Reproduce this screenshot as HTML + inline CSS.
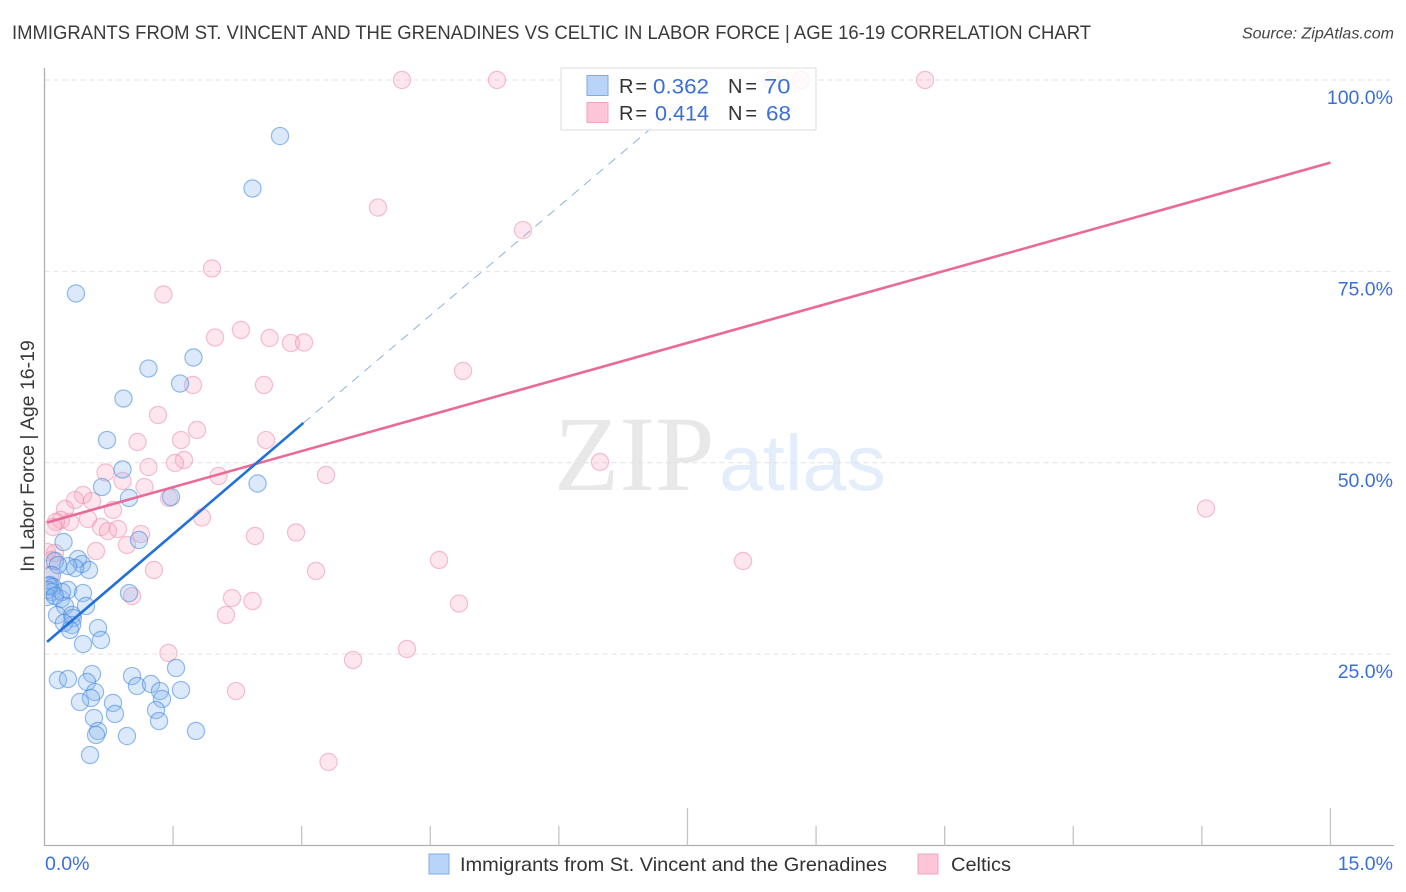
<!DOCTYPE html>
<html lang="en">
<head>
<meta charset="utf-8">
<title>Immigrants from St. Vincent and the Grenadines vs Celtic Correlation Chart</title>
<style>
html,body{margin:0;padding:0;background:#fff;}
body{width:1406px;height:892px;overflow:hidden;font-family:"Liberation Sans",sans-serif;}
svg{display:block;}
text{font-family:"Liberation Sans",sans-serif;}
</style>
</head>
<body>
<svg id="chart" width="1406" height="892" viewBox="0 0 1406 892" xmlns="http://www.w3.org/2000/svg">
  <defs>
    <clipPath id="plot-clip"><rect x="45.5" y="60" width="1350" height="786"/></clipPath>
  </defs>
  <text x="12" y="39" font-size="19.5" fill="#3a3a3a" textLength="1079" lengthAdjust="spacingAndGlyphs">IMMIGRANTS FROM ST. VINCENT AND THE GRENADINES VS CELTIC IN LABOR FORCE | AGE 16-19 CORRELATION CHART</text>
  <text x="1394" y="38.5" font-size="16" font-style="italic" fill="#444" text-anchor="end">Source: ZipAtlas.com</text>
  <g>
    <text x="554" y="490" font-size="107" fill="#e8e8e8" style="font-family:'Liberation Serif',serif">ZIP</text>
    <text x="719" y="490" font-size="79" fill="#e4edfa">atlas</text>
  </g>
  <g id="grid"></g>
  <g id="axes"></g>
  <g id="points" clip-path="url(#plot-clip)"></g>
  <g id="trends"></g>
  <g id="ylabels"></g>
  <g id="xlabels"></g>
  <text transform="translate(34,456) rotate(-90)" font-size="19.5" fill="#3a3a3a" text-anchor="middle">In Labor Force | Age 16-19</text>

  <g>
    <rect x="561" y="68" width="255" height="62" fill="#fff" fill-opacity="0.82" stroke="#dcdcdc" stroke-width="1"/>
    <rect x="587" y="75.5" width="21" height="20" fill="#b8d4f8" stroke="#7fade6" stroke-width="1"/>
    <rect x="587" y="102.5" width="21" height="20" fill="#fcc6d8" stroke="#f2a5be" stroke-width="1"/>
    <text x="619" y="93" font-size="20" fill="#333" textLength="28" lengthAdjust="spacing">R =</text>
    <text x="653" y="93.5" font-size="21.5" fill="#3a6fd8" textLength="56" lengthAdjust="spacingAndGlyphs">0.362</text>
    <text x="728" y="93" font-size="20" fill="#333" textLength="29" lengthAdjust="spacing">N =</text>
    <text x="764" y="93.5" font-size="21.5" fill="#3a6fd8" textLength="26.5" lengthAdjust="spacingAndGlyphs">70</text>
    <text x="619" y="120" font-size="20" fill="#333" textLength="28" lengthAdjust="spacing">R =</text>
    <text x="655" y="120.5" font-size="21.5" fill="#3a6fd8" textLength="54" lengthAdjust="spacingAndGlyphs">0.414</text>
    <text x="728" y="120" font-size="20" fill="#333" textLength="29" lengthAdjust="spacing">N =</text>
    <text x="766" y="120.5" font-size="21.5" fill="#3a6fd8" textLength="25" lengthAdjust="spacingAndGlyphs">68</text>
  </g>

  <g>
    <rect x="429" y="854" width="20" height="20" fill="#b8d4f8" stroke="#7fade6" stroke-width="1"/>
    <text x="460" y="871" font-size="19.5" fill="#333" textLength="427" lengthAdjust="spacingAndGlyphs">Immigrants from St. Vincent and the Grenadines</text>
    <rect x="918" y="854" width="20" height="20" fill="#fcc6d8" stroke="#f2a5be" stroke-width="1"/>
    <text x="951" y="871" font-size="19.5" fill="#333" textLength="60" lengthAdjust="spacingAndGlyphs">Celtics</text>
  </g>
</svg>
<script>
const xTicks = [0, 1.5, 3, 4.5, 6, 7.5, 9, 10.5, 12, 13.5, 15];
const majorXTicks = [0, 7.5, 15];
const xTickLabels = ["0.0%", "15.0%"];
const yGridValues = [25, 50, 75, 100];
const yTickLabels = ["25.0%", "50.0%", "75.0%", "100.0%"];

const blueX = [2.747,2.426,0.367,1.213,1.738,1.581,0.921,0.729,0.910,0.671,0.986,1.476,2.485,1.102,0.222,0.391,0.437,0.519,0.356,0.274,0.122,0.157,0.087,0.064,0.099,0.041,0.087,0.029,0.192,0.274,0.204,0.986,0.449,0.484,0.239,0.146,0.321,0.332,0.321,0.227,0.297,0.624,0.659,0.449,1.534,0.157,0.274,0.554,0.496,0.589,0.542,0.414,1.021,1.079,1.242,1.347,1.592,1.371,0.799,0.822,1.301,1.336,0.577,0.624,0.601,0.962,1.767,0.531,0.05,0.12];
const blueY = [92.68,85.83,72.11,62.31,63.75,60.35,58.39,52.97,49.12,46.83,45.40,45.53,47.29,39.91,39.65,37.43,36.77,35.99,36.25,36.51,37.17,36.64,35.34,34.03,33.77,33.38,33.12,32.46,32.20,33.38,33.12,32.98,32.98,31.29,31.29,30.11,30.11,29.72,28.80,29.07,28.15,28.41,26.85,26.32,23.19,21.62,21.75,22.40,21.36,20.05,19.27,18.75,22.14,20.84,21.10,20.18,20.31,19.14,18.62,17.18,17.70,16.26,16.66,14.96,14.44,14.30,14.96,11.82,33.9,32.6];

const pinkX = [4.170,5.278,8.474,8.824,10.271,3.890,5.581,1.954,1.388,2.292,1.989,2.625,2.875,3.027,4.882,2.560,1.732,1.324,1.779,1.592,2.584,1.085,1.627,1.522,1.213,0.712,3.284,6.480,2.030,0.910,1.166,1.452,0.449,0.356,0.554,0.239,0.799,1.837,0.507,0.297,0.192,0.134,0.099,0.659,0.741,0.857,1.126,0.962,2.455,2.934,13.548,0.601,4.602,8.148,0.122,0.029,0.087,0.064,1.277,3.167,1.021,2.187,2.426,4.835,2.117,4.228,1.446,3.599,2.234,3.313];
const pinkY = [100,100,100,100,100,83.34,80.40,75.38,71.98,67.34,66.36,66.30,65.64,65.71,61.99,60.16,60.16,56.24,54.28,52.97,52.97,52.71,50.36,49.97,49.44,48.73,48.40,50.10,48.27,47.62,46.83,45.40,45.79,45.13,45.00,43.96,43.83,42.85,42.65,42.26,42.52,42.26,41.61,41.61,41.08,41.35,40.69,39.26,40.43,40.89,44.02,38.47,37.30,37.17,38.21,38.34,37.30,35.34,35.99,35.86,32.59,32.33,31.94,31.61,30.11,25.67,25.15,24.23,20.18,10.91];

const blueTrendX = [0.03, 3.02];
const blueTrendY = [26.6, 55.2];
const blueDashX = [3.02, 7.74];
const blueDashY = [55.2, 100];
const pinkTrendX = [0.03, 15];
const pinkTrendY = [42.2, 89.2];

function xScale(v) { return 44.5 + v * 85.73; }
function yScale(v) { return 845.5 - v * 7.655; }

const NS = "http://www.w3.org/2000/svg";
function mk(tag, parent, attrs) {
  const el = document.createElementNS(NS, tag);
  Object.keys(attrs).forEach(function (k) { el.setAttribute(k, attrs[k]); });
  parent.appendChild(el);
  return el;
}

const grid = document.getElementById("grid");
yGridValues.forEach(function (v) {
  const ln = mk("line", grid, { x1: 44.5, x2: 1394, y1: yScale(v), y2: yScale(v), stroke: "#e2e2e2", "stroke-width": 1, "stroke-dasharray": "5 4" });
  
  
});

const axes = document.getElementById("axes");
const yAxis = mk("line", axes, { x1: 44.5, x2: 44.5, y1: 68, y2: 846, stroke: "#b0b0b0", "stroke-width": 1.3 });


const xAxis = mk("line", axes, { x1: 44, x2: 1394, y1: 845.5, y2: 845.5, stroke: "#b0b0b0", "stroke-width": 1.3 });


xTicks.forEach(function (v) {
  if (v === 0) return;
  const major = majorXTicks.indexOf(v) >= 0;
  const t = mk("line", axes, { x1: xScale(v), x2: xScale(v), y1: major ? 808 : 826, y2: 845.5, stroke: "#c4c4c4", "stroke-width": 1.3 });
  
  
});

const pts = document.getElementById("points");
pinkX.forEach(function (x, i) {
  const c = mk("circle", pts, { cx: xScale(x), cy: yScale(pinkY[i]), r: 8.6, fill: "#f8a5c0", "fill-opacity": 0.28, stroke: "#ec86a8", "stroke-opacity": 0.5, "stroke-width": 1.2 });
  
  
});
blueX.forEach(function (x, i) {
  const c = mk("circle", pts, { cx: xScale(x), cy: yScale(blueY[i]), r: 8.6, fill: "#88b6ee", "fill-opacity": 0.3, stroke: "#3f86de", "stroke-opacity": 0.55, "stroke-width": 1.2 });
  
  
});

const trends = document.getElementById("trends");
const blueDash = mk("line", trends, { x1: xScale(blueDashX[0]), y1: yScale(blueDashY[0]), x2: xScale(blueDashX[1]), y2: yScale(blueDashY[1]), stroke: "#8fb2e0", "stroke-width": 1, "stroke-dasharray": "9 7" });


const pinkTrend = mk("line", trends, { x1: xScale(pinkTrendX[0]), y1: yScale(pinkTrendY[0]), x2: xScale(pinkTrendX[1]), y2: yScale(pinkTrendY[1]), stroke: "#e96a98", "stroke-width": 2.6 });


const blueTrend = mk("line", trends, { x1: xScale(blueTrendX[0]), y1: yScale(blueTrendY[0]), x2: xScale(blueTrendX[1]), y2: yScale(blueTrendY[1]), stroke: "#2270d8", "stroke-width": 2.6 });



const yl = document.getElementById("ylabels");
yGridValues.forEach(function (v, i) {
  const t = mk("text", yl, { x: 1393, y: yScale(v) + 24, "font-size": 19.5, fill: "#3a6fd8", "text-anchor": "end" });
  
  
  t.textContent = yTickLabels[i];
});

const xl = document.getElementById("xlabels");
const xLeft = mk("text", xl, { x: 45, y: 870, "font-size": 19.5, fill: "#3a6fd8" });


xLeft.textContent = xTickLabels[0];
const xRight = mk("text", xl, { x: 1393, y: 870, "font-size": 19.5, fill: "#3a6fd8", "text-anchor": "end" });


xRight.textContent = xTickLabels[1];
</script>
</body>
</html>
